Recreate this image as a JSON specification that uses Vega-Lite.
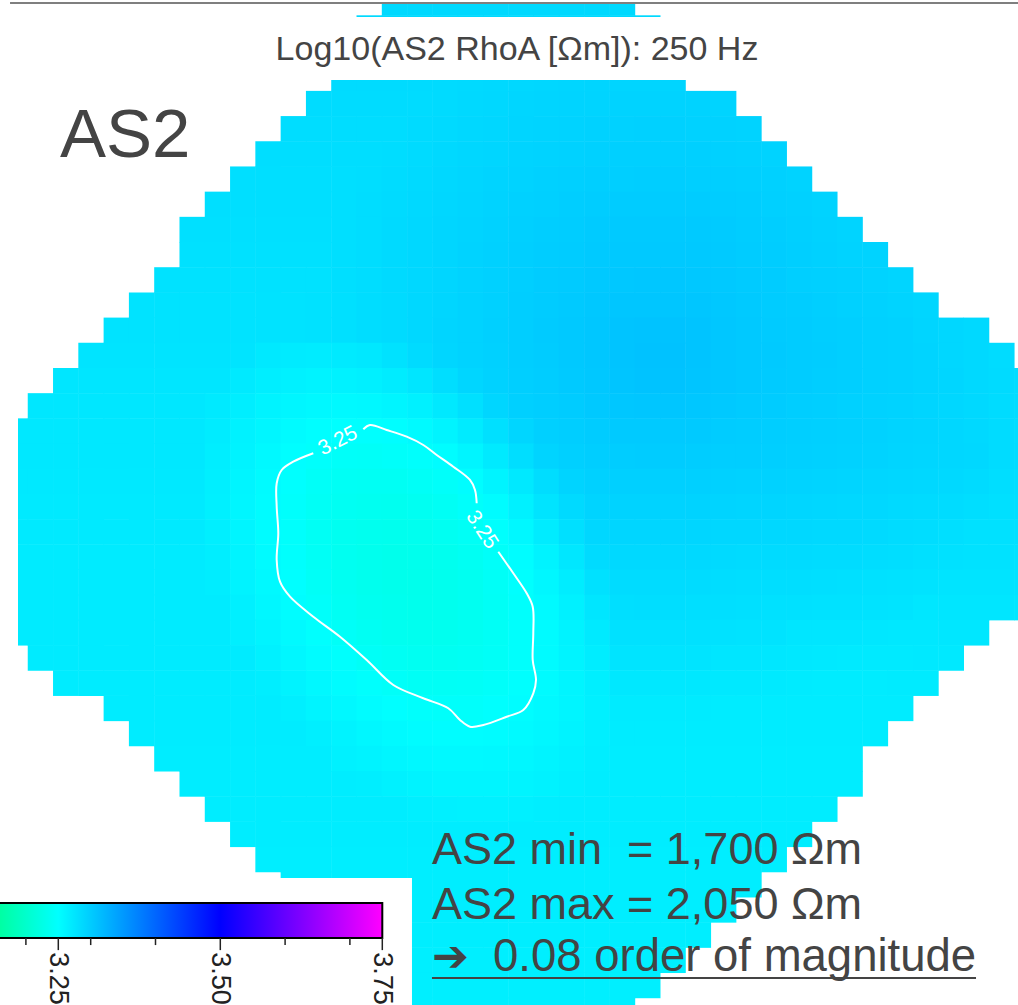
{
"$schema":"https://vega.github.io/schema/vega-lite/v6.json",
"width":1000,"height":1001,
"padding":{"left":18,"top":4,"right":0,"bottom":0},
"autosize":{"type":"none"},
"background":"white",
"config":{"view":{"stroke":null},"axis":{"disable":true},"text":{"font":"Liberation Sans"}},
"layer":[
{"layer":[
{"data":{"values":[
{"c":15,"r":0,"v":3.287},{"c":16,"r":0,"v":3.287},{"c":17,"r":0,"v":3.287},{"c":18,"r":0,"v":3.287},{"c":19,"r":0,"v":3.287},{"c":20,"r":0,"v":3.287},{"c":21,"r":0,"v":3.287},{"c":22,"r":0,"v":3.287},{"c":23,"r":0,"v":3.287},{"c":24,"r":0,"v":3.287},
{"c":14,"r":1,"v":3.286},{"c":15,"r":1,"v":3.286},{"c":16,"r":1,"v":3.286},{"c":17,"r":1,"v":3.286},{"c":18,"r":1,"v":3.286},{"c":19,"r":1,"v":3.286},{"c":20,"r":1,"v":3.286},{"c":21,"r":1,"v":3.286},{"c":22,"r":1,"v":3.286},{"c":23,"r":1,"v":3.286},{"c":24,"r":1,"v":3.287},{"c":25,"r":1,"v":3.287},
{"c":14,"r":2,"v":3.285},{"c":15,"r":2,"v":3.285},{"c":16,"r":2,"v":3.285},{"c":17,"r":2,"v":3.285},{"c":18,"r":2,"v":3.285},{"c":19,"r":2,"v":3.285},{"c":20,"r":2,"v":3.286},{"c":21,"r":2,"v":3.287},{"c":22,"r":2,"v":3.288},{"c":23,"r":2,"v":3.288},{"c":24,"r":2,"v":3.289},{"c":25,"r":2,"v":3.289},{"c":26,"r":2,"v":3.289},
{"c":13,"r":3,"v":3.285},{"c":14,"r":3,"v":3.285},{"c":15,"r":3,"v":3.285},{"c":16,"r":3,"v":3.285},{"c":17,"r":3,"v":3.285},{"c":18,"r":3,"v":3.286},{"c":19,"r":3,"v":3.287},{"c":20,"r":3,"v":3.288},{"c":21,"r":3,"v":3.289},{"c":22,"r":3,"v":3.29},{"c":23,"r":3,"v":3.291},{"c":24,"r":3,"v":3.291},{"c":25,"r":3,"v":3.291},{"c":26,"r":3,"v":3.291},
{"c":12,"r":4,"v":3.284},{"c":13,"r":4,"v":3.284},{"c":14,"r":4,"v":3.284},{"c":15,"r":4,"v":3.284},{"c":16,"r":4,"v":3.284},{"c":17,"r":4,"v":3.285},{"c":18,"r":4,"v":3.287},{"c":19,"r":4,"v":3.288},{"c":20,"r":4,"v":3.29},{"c":21,"r":4,"v":3.291},{"c":22,"r":4,"v":3.292},{"c":23,"r":4,"v":3.292},{"c":24,"r":4,"v":3.293},{"c":25,"r":4,"v":3.293},{"c":26,"r":4,"v":3.293},{"c":27,"r":4,"v":3.293},{"c":28,"r":4,"v":3.292},
{"c":11,"r":5,"v":3.283},{"c":12,"r":5,"v":3.283},{"c":13,"r":5,"v":3.283},{"c":14,"r":5,"v":3.283},{"c":15,"r":5,"v":3.283},{"c":16,"r":5,"v":3.285},{"c":17,"r":5,"v":3.286},{"c":18,"r":5,"v":3.288},{"c":19,"r":5,"v":3.289},{"c":20,"r":5,"v":3.291},{"c":21,"r":5,"v":3.292},{"c":22,"r":5,"v":3.293},{"c":23,"r":5,"v":3.294},{"c":24,"r":5,"v":3.294},{"c":25,"r":5,"v":3.295},{"c":26,"r":5,"v":3.295},{"c":27,"r":5,"v":3.294},{"c":28,"r":5,"v":3.294},{"c":29,"r":5,"v":3.293},
{"c":10,"r":6,"v":3.282},{"c":11,"r":6,"v":3.282},{"c":12,"r":6,"v":3.282},{"c":13,"r":6,"v":3.282},{"c":14,"r":6,"v":3.282},{"c":15,"r":6,"v":3.283},{"c":16,"r":6,"v":3.285},{"c":17,"r":6,"v":3.287},{"c":18,"r":6,"v":3.289},{"c":19,"r":6,"v":3.29},{"c":20,"r":6,"v":3.292},{"c":21,"r":6,"v":3.293},{"c":22,"r":6,"v":3.294},{"c":23,"r":6,"v":3.295},{"c":24,"r":6,"v":3.296},{"c":25,"r":6,"v":3.296},{"c":26,"r":6,"v":3.296},{"c":27,"r":6,"v":3.296},{"c":28,"r":6,"v":3.295},{"c":29,"r":6,"v":3.294},{"c":30,"r":6,"v":3.293},
{"c":9,"r":7,"v":3.281},{"c":10,"r":7,"v":3.281},{"c":11,"r":7,"v":3.281},{"c":12,"r":7,"v":3.281},{"c":13,"r":7,"v":3.281},{"c":14,"r":7,"v":3.282},{"c":15,"r":7,"v":3.284},{"c":16,"r":7,"v":3.286},{"c":17,"r":7,"v":3.288},{"c":18,"r":7,"v":3.29},{"c":19,"r":7,"v":3.292},{"c":20,"r":7,"v":3.293},{"c":21,"r":7,"v":3.295},{"c":22,"r":7,"v":3.296},{"c":23,"r":7,"v":3.297},{"c":24,"r":7,"v":3.297},{"c":25,"r":7,"v":3.298},{"c":26,"r":7,"v":3.298},{"c":27,"r":7,"v":3.297},{"c":28,"r":7,"v":3.297},{"c":29,"r":7,"v":3.296},{"c":30,"r":7,"v":3.295},{"c":31,"r":7,"v":3.293},
{"c":8,"r":8,"v":3.281},{"c":9,"r":8,"v":3.281},{"c":10,"r":8,"v":3.281},{"c":11,"r":8,"v":3.281},{"c":12,"r":8,"v":3.281},{"c":13,"r":8,"v":3.281},{"c":14,"r":8,"v":3.283},{"c":15,"r":8,"v":3.285},{"c":16,"r":8,"v":3.287},{"c":17,"r":8,"v":3.289},{"c":18,"r":8,"v":3.291},{"c":19,"r":8,"v":3.293},{"c":20,"r":8,"v":3.295},{"c":21,"r":8,"v":3.296},{"c":22,"r":8,"v":3.298},{"c":23,"r":8,"v":3.299},{"c":24,"r":8,"v":3.3},{"c":25,"r":8,"v":3.3},{"c":26,"r":8,"v":3.3},{"c":27,"r":8,"v":3.3},{"c":28,"r":8,"v":3.299},{"c":29,"r":8,"v":3.298},{"c":30,"r":8,"v":3.296},{"c":31,"r":8,"v":3.295},{"c":32,"r":8,"v":3.293},
{"c":7,"r":9,"v":3.28},{"c":8,"r":9,"v":3.28},{"c":9,"r":9,"v":3.28},{"c":10,"r":9,"v":3.28},{"c":11,"r":9,"v":3.28},{"c":12,"r":9,"v":3.28},{"c":13,"r":9,"v":3.281},{"c":14,"r":9,"v":3.283},{"c":15,"r":9,"v":3.286},{"c":16,"r":9,"v":3.288},{"c":17,"r":9,"v":3.29},{"c":18,"r":9,"v":3.292},{"c":19,"r":9,"v":3.294},{"c":20,"r":9,"v":3.296},{"c":21,"r":9,"v":3.298},{"c":22,"r":9,"v":3.299},{"c":23,"r":9,"v":3.301},{"c":24,"r":9,"v":3.302},{"c":25,"r":9,"v":3.302},{"c":26,"r":9,"v":3.302},{"c":27,"r":9,"v":3.302},{"c":28,"r":9,"v":3.301},{"c":29,"r":9,"v":3.299},{"c":30,"r":9,"v":3.298},{"c":31,"r":9,"v":3.296},{"c":32,"r":9,"v":3.294},{"c":33,"r":9,"v":3.292},
{"c":7,"r":10,"v":3.279},{"c":8,"r":10,"v":3.279},{"c":9,"r":10,"v":3.279},{"c":10,"r":10,"v":3.279},{"c":11,"r":10,"v":3.279},{"c":12,"r":10,"v":3.279},{"c":13,"r":10,"v":3.281},{"c":14,"r":10,"v":3.283},{"c":15,"r":10,"v":3.286},{"c":16,"r":10,"v":3.288},{"c":17,"r":10,"v":3.29},{"c":18,"r":10,"v":3.293},{"c":19,"r":10,"v":3.295},{"c":20,"r":10,"v":3.297},{"c":21,"r":10,"v":3.299},{"c":22,"r":10,"v":3.3},{"c":23,"r":10,"v":3.302},{"c":24,"r":10,"v":3.303},{"c":25,"r":10,"v":3.303},{"c":26,"r":10,"v":3.303},{"c":27,"r":10,"v":3.303},{"c":28,"r":10,"v":3.302},{"c":29,"r":10,"v":3.3},{"c":30,"r":10,"v":3.299},{"c":31,"r":10,"v":3.297},{"c":32,"r":10,"v":3.295},{"c":33,"r":10,"v":3.293},{"c":34,"r":10,"v":3.293},
{"c":6,"r":11,"v":3.278},{"c":7,"r":11,"v":3.278},{"c":8,"r":11,"v":3.278},{"c":9,"r":11,"v":3.278},{"c":10,"r":11,"v":3.278},{"c":11,"r":11,"v":3.278},{"c":12,"r":11,"v":3.278},{"c":13,"r":11,"v":3.281},{"c":14,"r":11,"v":3.283},{"c":15,"r":11,"v":3.286},{"c":16,"r":11,"v":3.288},{"c":17,"r":11,"v":3.29},{"c":18,"r":11,"v":3.293},{"c":19,"r":11,"v":3.295},{"c":20,"r":11,"v":3.297},{"c":21,"r":11,"v":3.3},{"c":22,"r":11,"v":3.301},{"c":23,"r":11,"v":3.303},{"c":24,"r":11,"v":3.304},{"c":25,"r":11,"v":3.305},{"c":26,"r":11,"v":3.305},{"c":27,"r":11,"v":3.304},{"c":28,"r":11,"v":3.303},{"c":29,"r":11,"v":3.301},{"c":30,"r":11,"v":3.3},{"c":31,"r":11,"v":3.297},{"c":32,"r":11,"v":3.296},{"c":33,"r":11,"v":3.295},{"c":34,"r":11,"v":3.293},{"c":35,"r":11,"v":3.291},
{"c":5,"r":12,"v":3.277},{"c":6,"r":12,"v":3.277},{"c":7,"r":12,"v":3.277},{"c":8,"r":12,"v":3.277},{"c":9,"r":12,"v":3.277},{"c":10,"r":12,"v":3.277},{"c":11,"r":12,"v":3.277},{"c":12,"r":12,"v":3.278},{"c":13,"r":12,"v":3.28},{"c":14,"r":12,"v":3.283},{"c":15,"r":12,"v":3.285},{"c":16,"r":12,"v":3.288},{"c":17,"r":12,"v":3.29},{"c":18,"r":12,"v":3.293},{"c":19,"r":12,"v":3.295},{"c":20,"r":12,"v":3.298},{"c":21,"r":12,"v":3.3},{"c":22,"r":12,"v":3.302},{"c":23,"r":12,"v":3.304},{"c":24,"r":12,"v":3.306},{"c":25,"r":12,"v":3.306},{"c":26,"r":12,"v":3.306},{"c":27,"r":12,"v":3.306},{"c":28,"r":12,"v":3.304},{"c":29,"r":12,"v":3.302},{"c":30,"r":12,"v":3.3},{"c":31,"r":12,"v":3.299},{"c":32,"r":12,"v":3.297},{"c":33,"r":12,"v":3.295},{"c":34,"r":12,"v":3.294},{"c":35,"r":12,"v":3.292},{"c":36,"r":12,"v":3.29},
{"c":4,"r":13,"v":3.277},{"c":5,"r":13,"v":3.277},{"c":6,"r":13,"v":3.277},{"c":7,"r":13,"v":3.277},{"c":8,"r":13,"v":3.277},{"c":9,"r":13,"v":3.277},{"c":10,"r":13,"v":3.277},{"c":11,"r":13,"v":3.277},{"c":12,"r":13,"v":3.278},{"c":13,"r":13,"v":3.28},{"c":14,"r":13,"v":3.283},{"c":15,"r":13,"v":3.285},{"c":16,"r":13,"v":3.288},{"c":17,"r":13,"v":3.291},{"c":18,"r":13,"v":3.293},{"c":19,"r":13,"v":3.296},{"c":20,"r":13,"v":3.298},{"c":21,"r":13,"v":3.301},{"c":22,"r":13,"v":3.303},{"c":23,"r":13,"v":3.305},{"c":24,"r":13,"v":3.308},{"c":25,"r":13,"v":3.309},{"c":26,"r":13,"v":3.309},{"c":27,"r":13,"v":3.308},{"c":28,"r":13,"v":3.305},{"c":29,"r":13,"v":3.303},{"c":30,"r":13,"v":3.301},{"c":31,"r":13,"v":3.3},{"c":32,"r":13,"v":3.298},{"c":33,"r":13,"v":3.297},{"c":34,"r":13,"v":3.295},{"c":35,"r":13,"v":3.294},{"c":36,"r":13,"v":3.291},{"c":37,"r":13,"v":3.289},{"c":38,"r":13,"v":3.287},
{"c":3,"r":14,"v":3.276},{"c":4,"r":14,"v":3.276},{"c":5,"r":14,"v":3.276},{"c":6,"r":14,"v":3.276},{"c":7,"r":14,"v":3.276},{"c":8,"r":14,"v":3.276},{"c":9,"r":14,"v":3.276},{"c":10,"r":14,"v":3.272},{"c":11,"r":14,"v":3.27},{"c":12,"r":14,"v":3.269},{"c":13,"r":14,"v":3.271},{"c":14,"r":14,"v":3.273},{"c":15,"r":14,"v":3.278},{"c":16,"r":14,"v":3.285},{"c":17,"r":14,"v":3.29},{"c":18,"r":14,"v":3.293},{"c":19,"r":14,"v":3.295},{"c":20,"r":14,"v":3.298},{"c":21,"r":14,"v":3.3},{"c":22,"r":14,"v":3.303},{"c":23,"r":14,"v":3.305},{"c":24,"r":14,"v":3.308},{"c":25,"r":14,"v":3.31},{"c":26,"r":14,"v":3.31},{"c":27,"r":14,"v":3.308},{"c":28,"r":14,"v":3.305},{"c":29,"r":14,"v":3.303},{"c":30,"r":14,"v":3.302},{"c":31,"r":14,"v":3.3},{"c":32,"r":14,"v":3.299},{"c":33,"r":14,"v":3.297},{"c":34,"r":14,"v":3.295},{"c":35,"r":14,"v":3.294},{"c":36,"r":14,"v":3.292},{"c":37,"r":14,"v":3.289},{"c":38,"r":14,"v":3.287},{"c":39,"r":14,"v":3.284},
{"c":2,"r":15,"v":3.275},{"c":3,"r":15,"v":3.275},{"c":4,"r":15,"v":3.275},{"c":5,"r":15,"v":3.275},{"c":6,"r":15,"v":3.275},{"c":7,"r":15,"v":3.275},{"c":8,"r":15,"v":3.275},{"c":9,"r":15,"v":3.271},{"c":10,"r":15,"v":3.267},{"c":11,"r":15,"v":3.264},{"c":12,"r":15,"v":3.262},{"c":13,"r":15,"v":3.263},{"c":14,"r":15,"v":3.265},{"c":15,"r":15,"v":3.269},{"c":16,"r":15,"v":3.275},{"c":17,"r":15,"v":3.282},{"c":18,"r":15,"v":3.29},{"c":19,"r":15,"v":3.294},{"c":20,"r":15,"v":3.297},{"c":21,"r":15,"v":3.299},{"c":22,"r":15,"v":3.302},{"c":23,"r":15,"v":3.304},{"c":24,"r":15,"v":3.307},{"c":25,"r":15,"v":3.309},{"c":26,"r":15,"v":3.309},{"c":27,"r":15,"v":3.307},{"c":28,"r":15,"v":3.305},{"c":29,"r":15,"v":3.303},{"c":30,"r":15,"v":3.301},{"c":31,"r":15,"v":3.3},{"c":32,"r":15,"v":3.298},{"c":33,"r":15,"v":3.297},{"c":34,"r":15,"v":3.295},{"c":35,"r":15,"v":3.294},{"c":36,"r":15,"v":3.292},{"c":37,"r":15,"v":3.29},{"c":38,"r":15,"v":3.287},{"c":39,"r":15,"v":3.285},{"c":40,"r":15,"v":3.283},
{"c":1,"r":16,"v":3.274},{"c":2,"r":16,"v":3.274},{"c":3,"r":16,"v":3.274},{"c":4,"r":16,"v":3.274},{"c":5,"r":16,"v":3.274},{"c":6,"r":16,"v":3.274},{"c":7,"r":16,"v":3.274},{"c":8,"r":16,"v":3.271},{"c":9,"r":16,"v":3.267},{"c":10,"r":16,"v":3.262},{"c":11,"r":16,"v":3.259},{"c":12,"r":16,"v":3.257},{"c":13,"r":16,"v":3.256},{"c":14,"r":16,"v":3.257},{"c":15,"r":16,"v":3.26},{"c":16,"r":16,"v":3.264},{"c":17,"r":16,"v":3.272},{"c":18,"r":16,"v":3.28},{"c":19,"r":16,"v":3.29},{"c":20,"r":16,"v":3.296},{"c":21,"r":16,"v":3.298},{"c":22,"r":16,"v":3.3},{"c":23,"r":16,"v":3.303},{"c":24,"r":16,"v":3.305},{"c":25,"r":16,"v":3.306},{"c":26,"r":16,"v":3.306},{"c":27,"r":16,"v":3.305},{"c":28,"r":16,"v":3.303},{"c":29,"r":16,"v":3.301},{"c":30,"r":16,"v":3.3},{"c":31,"r":16,"v":3.298},{"c":32,"r":16,"v":3.297},{"c":33,"r":16,"v":3.295},{"c":34,"r":16,"v":3.294},{"c":35,"r":16,"v":3.293},{"c":36,"r":16,"v":3.291},{"c":37,"r":16,"v":3.289},{"c":38,"r":16,"v":3.287},{"c":39,"r":16,"v":3.284},{"c":40,"r":16,"v":3.283},
{"c":0,"r":17,"v":3.273},{"c":1,"r":17,"v":3.273},{"c":2,"r":17,"v":3.273},{"c":3,"r":17,"v":3.273},{"c":4,"r":17,"v":3.273},{"c":5,"r":17,"v":3.273},{"c":6,"r":17,"v":3.273},{"c":7,"r":17,"v":3.273},{"c":8,"r":17,"v":3.269},{"c":9,"r":17,"v":3.263},{"c":10,"r":17,"v":3.259},{"c":11,"r":17,"v":3.254},{"c":12,"r":17,"v":3.251},{"c":13,"r":17,"v":3.25},{"c":14,"r":17,"v":3.249},{"c":15,"r":17,"v":3.251},{"c":16,"r":17,"v":3.255},{"c":17,"r":17,"v":3.261},{"c":18,"r":17,"v":3.27},{"c":19,"r":17,"v":3.28},{"c":20,"r":17,"v":3.29},{"c":21,"r":17,"v":3.296},{"c":22,"r":17,"v":3.298},{"c":23,"r":17,"v":3.3},{"c":24,"r":17,"v":3.302},{"c":25,"r":17,"v":3.302},{"c":26,"r":17,"v":3.302},{"c":27,"r":17,"v":3.302},{"c":28,"r":17,"v":3.3},{"c":29,"r":17,"v":3.299},{"c":30,"r":17,"v":3.298},{"c":31,"r":17,"v":3.297},{"c":32,"r":17,"v":3.296},{"c":33,"r":17,"v":3.295},{"c":34,"r":17,"v":3.294},{"c":35,"r":17,"v":3.292},{"c":36,"r":17,"v":3.291},{"c":37,"r":17,"v":3.289},{"c":38,"r":17,"v":3.287},{"c":39,"r":17,"v":3.284},{"c":40,"r":17,"v":3.282},
{"c":0,"r":18,"v":3.273},{"c":1,"r":18,"v":3.273},{"c":2,"r":18,"v":3.273},{"c":3,"r":18,"v":3.273},{"c":4,"r":18,"v":3.273},{"c":5,"r":18,"v":3.273},{"c":6,"r":18,"v":3.273},{"c":7,"r":18,"v":3.273},{"c":8,"r":18,"v":3.267},{"c":9,"r":18,"v":3.262},{"c":10,"r":18,"v":3.256},{"c":11,"r":18,"v":3.251},{"c":12,"r":18,"v":3.247},{"c":13,"r":18,"v":3.244},{"c":14,"r":18,"v":3.243},{"c":15,"r":18,"v":3.245},{"c":16,"r":18,"v":3.247},{"c":17,"r":18,"v":3.252},{"c":18,"r":18,"v":3.26},{"c":19,"r":18,"v":3.271},{"c":20,"r":18,"v":3.282},{"c":21,"r":18,"v":3.292},{"c":22,"r":18,"v":3.296},{"c":23,"r":18,"v":3.298},{"c":24,"r":18,"v":3.299},{"c":25,"r":18,"v":3.3},{"c":26,"r":18,"v":3.3},{"c":27,"r":18,"v":3.299},{"c":28,"r":18,"v":3.298},{"c":29,"r":18,"v":3.298},{"c":30,"r":18,"v":3.297},{"c":31,"r":18,"v":3.296},{"c":32,"r":18,"v":3.295},{"c":33,"r":18,"v":3.294},{"c":34,"r":18,"v":3.293},{"c":35,"r":18,"v":3.291},{"c":36,"r":18,"v":3.29},{"c":37,"r":18,"v":3.289},{"c":38,"r":18,"v":3.288},{"c":39,"r":18,"v":3.284},{"c":40,"r":18,"v":3.283},
{"c":0,"r":19,"v":3.272},{"c":1,"r":19,"v":3.272},{"c":2,"r":19,"v":3.272},{"c":3,"r":19,"v":3.272},{"c":4,"r":19,"v":3.272},{"c":5,"r":19,"v":3.272},{"c":6,"r":19,"v":3.272},{"c":7,"r":19,"v":3.272},{"c":8,"r":19,"v":3.266},{"c":9,"r":19,"v":3.26},{"c":10,"r":19,"v":3.254},{"c":11,"r":19,"v":3.249},{"c":12,"r":19,"v":3.243},{"c":13,"r":19,"v":3.24},{"c":14,"r":19,"v":3.239},{"c":15,"r":19,"v":3.239},{"c":16,"r":19,"v":3.242},{"c":17,"r":19,"v":3.245},{"c":18,"r":19,"v":3.252},{"c":19,"r":19,"v":3.261},{"c":20,"r":19,"v":3.272},{"c":21,"r":19,"v":3.283},{"c":22,"r":19,"v":3.292},{"c":23,"r":19,"v":3.295},{"c":24,"r":19,"v":3.296},{"c":25,"r":19,"v":3.296},{"c":26,"r":19,"v":3.296},{"c":27,"r":19,"v":3.296},{"c":28,"r":19,"v":3.295},{"c":29,"r":19,"v":3.294},{"c":30,"r":19,"v":3.294},{"c":31,"r":19,"v":3.293},{"c":32,"r":19,"v":3.292},{"c":33,"r":19,"v":3.291},{"c":34,"r":19,"v":3.29},{"c":35,"r":19,"v":3.289},{"c":36,"r":19,"v":3.288},{"c":37,"r":19,"v":3.287},{"c":38,"r":19,"v":3.285},{"c":39,"r":19,"v":3.282},{"c":40,"r":19,"v":3.281},
{"c":0,"r":20,"v":3.271},{"c":1,"r":20,"v":3.271},{"c":2,"r":20,"v":3.271},{"c":3,"r":20,"v":3.271},{"c":4,"r":20,"v":3.271},{"c":5,"r":20,"v":3.271},{"c":6,"r":20,"v":3.271},{"c":7,"r":20,"v":3.271},{"c":8,"r":20,"v":3.265},{"c":9,"r":20,"v":3.259},{"c":10,"r":20,"v":3.253},{"c":11,"r":20,"v":3.247},{"c":12,"r":20,"v":3.241},{"c":13,"r":20,"v":3.238},{"c":14,"r":20,"v":3.236},{"c":15,"r":20,"v":3.235},{"c":16,"r":20,"v":3.237},{"c":17,"r":20,"v":3.24},{"c":18,"r":20,"v":3.246},{"c":19,"r":20,"v":3.253},{"c":20,"r":20,"v":3.264},{"c":21,"r":20,"v":3.276},{"c":22,"r":20,"v":3.286},{"c":23,"r":20,"v":3.292},{"c":24,"r":20,"v":3.293},{"c":25,"r":20,"v":3.293},{"c":26,"r":20,"v":3.293},{"c":27,"r":20,"v":3.293},{"c":28,"r":20,"v":3.292},{"c":29,"r":20,"v":3.291},{"c":30,"r":20,"v":3.291},{"c":31,"r":20,"v":3.29},{"c":32,"r":20,"v":3.289},{"c":33,"r":20,"v":3.288},{"c":34,"r":20,"v":3.288},{"c":35,"r":20,"v":3.286},{"c":36,"r":20,"v":3.285},{"c":37,"r":20,"v":3.284},{"c":38,"r":20,"v":3.282},{"c":39,"r":20,"v":3.28},{"c":40,"r":20,"v":3.28},
{"c":0,"r":21,"v":3.271},{"c":1,"r":21,"v":3.271},{"c":2,"r":21,"v":3.271},{"c":3,"r":21,"v":3.271},{"c":4,"r":21,"v":3.271},{"c":5,"r":21,"v":3.271},{"c":6,"r":21,"v":3.271},{"c":7,"r":21,"v":3.271},{"c":8,"r":21,"v":3.266},{"c":9,"r":21,"v":3.26},{"c":10,"r":21,"v":3.253},{"c":11,"r":21,"v":3.247},{"c":12,"r":21,"v":3.24},{"c":13,"r":21,"v":3.236},{"c":14,"r":21,"v":3.234},{"c":15,"r":21,"v":3.233},{"c":16,"r":21,"v":3.234},{"c":17,"r":21,"v":3.237},{"c":18,"r":21,"v":3.241},{"c":19,"r":21,"v":3.248},{"c":20,"r":21,"v":3.257},{"c":21,"r":21,"v":3.269},{"c":22,"r":21,"v":3.28},{"c":23,"r":21,"v":3.289},{"c":24,"r":21,"v":3.29},{"c":25,"r":21,"v":3.29},{"c":26,"r":21,"v":3.29},{"c":27,"r":21,"v":3.29},{"c":28,"r":21,"v":3.289},{"c":29,"r":21,"v":3.289},{"c":30,"r":21,"v":3.288},{"c":31,"r":21,"v":3.288},{"c":32,"r":21,"v":3.287},{"c":33,"r":21,"v":3.287},{"c":34,"r":21,"v":3.286},{"c":35,"r":21,"v":3.284},{"c":36,"r":21,"v":3.283},{"c":37,"r":21,"v":3.281},{"c":38,"r":21,"v":3.279},{"c":39,"r":21,"v":3.279},{"c":40,"r":21,"v":3.279},
{"c":0,"r":22,"v":3.27},{"c":1,"r":22,"v":3.27},{"c":2,"r":22,"v":3.27},{"c":3,"r":22,"v":3.27},{"c":4,"r":22,"v":3.27},{"c":5,"r":22,"v":3.27},{"c":6,"r":22,"v":3.27},{"c":7,"r":22,"v":3.27},{"c":8,"r":22,"v":3.267},{"c":9,"r":22,"v":3.261},{"c":10,"r":22,"v":3.254},{"c":11,"r":22,"v":3.248},{"c":12,"r":22,"v":3.241},{"c":13,"r":22,"v":3.236},{"c":14,"r":22,"v":3.233},{"c":15,"r":22,"v":3.231},{"c":16,"r":22,"v":3.232},{"c":17,"r":22,"v":3.234},{"c":18,"r":22,"v":3.238},{"c":19,"r":22,"v":3.244},{"c":20,"r":22,"v":3.252},{"c":21,"r":22,"v":3.262},{"c":22,"r":22,"v":3.274},{"c":23,"r":22,"v":3.285},{"c":24,"r":22,"v":3.287},{"c":25,"r":22,"v":3.287},{"c":26,"r":22,"v":3.287},{"c":27,"r":22,"v":3.287},{"c":28,"r":22,"v":3.286},{"c":29,"r":22,"v":3.285},{"c":30,"r":22,"v":3.285},{"c":31,"r":22,"v":3.285},{"c":32,"r":22,"v":3.284},{"c":33,"r":22,"v":3.284},{"c":34,"r":22,"v":3.283},{"c":35,"r":22,"v":3.282},{"c":36,"r":22,"v":3.28},{"c":37,"r":22,"v":3.279},{"c":38,"r":22,"v":3.278},{"c":39,"r":22,"v":3.278},{"c":40,"r":22,"v":3.277},
{"c":0,"r":23,"v":3.27},{"c":1,"r":23,"v":3.27},{"c":2,"r":23,"v":3.27},{"c":3,"r":23,"v":3.27},{"c":4,"r":23,"v":3.27},{"c":5,"r":23,"v":3.27},{"c":6,"r":23,"v":3.27},{"c":7,"r":23,"v":3.27},{"c":8,"r":23,"v":3.268},{"c":9,"r":23,"v":3.262},{"c":10,"r":23,"v":3.256},{"c":11,"r":23,"v":3.25},{"c":12,"r":23,"v":3.242},{"c":13,"r":23,"v":3.237},{"c":14,"r":23,"v":3.233},{"c":15,"r":23,"v":3.231},{"c":16,"r":23,"v":3.231},{"c":17,"r":23,"v":3.233},{"c":18,"r":23,"v":3.236},{"c":19,"r":23,"v":3.242},{"c":20,"r":23,"v":3.249},{"c":21,"r":23,"v":3.258},{"c":22,"r":23,"v":3.268},{"c":23,"r":23,"v":3.279},{"c":24,"r":23,"v":3.284},{"c":25,"r":23,"v":3.284},{"c":26,"r":23,"v":3.284},{"c":27,"r":23,"v":3.284},{"c":28,"r":23,"v":3.283},{"c":29,"r":23,"v":3.282},{"c":30,"r":23,"v":3.282},{"c":31,"r":23,"v":3.282},{"c":32,"r":23,"v":3.281},{"c":33,"r":23,"v":3.28},{"c":34,"r":23,"v":3.279},{"c":35,"r":23,"v":3.278},{"c":36,"r":23,"v":3.277},{"c":37,"r":23,"v":3.276},{"c":38,"r":23,"v":3.276},{"c":39,"r":23,"v":3.276},{"c":40,"r":23,"v":3.276},
{"c":0,"r":24,"v":3.27},{"c":1,"r":24,"v":3.27},{"c":2,"r":24,"v":3.27},{"c":3,"r":24,"v":3.27},{"c":4,"r":24,"v":3.27},{"c":5,"r":24,"v":3.27},{"c":6,"r":24,"v":3.27},{"c":7,"r":24,"v":3.27},{"c":8,"r":24,"v":3.27},{"c":9,"r":24,"v":3.265},{"c":10,"r":24,"v":3.258},{"c":11,"r":24,"v":3.252},{"c":12,"r":24,"v":3.245},{"c":13,"r":24,"v":3.239},{"c":14,"r":24,"v":3.235},{"c":15,"r":24,"v":3.233},{"c":16,"r":24,"v":3.232},{"c":17,"r":24,"v":3.233},{"c":18,"r":24,"v":3.236},{"c":19,"r":24,"v":3.241},{"c":20,"r":24,"v":3.247},{"c":21,"r":24,"v":3.255},{"c":22,"r":24,"v":3.264},{"c":23,"r":24,"v":3.275},{"c":24,"r":24,"v":3.281},{"c":25,"r":24,"v":3.282},{"c":26,"r":24,"v":3.282},{"c":27,"r":24,"v":3.281},{"c":28,"r":24,"v":3.281},{"c":29,"r":24,"v":3.28},{"c":30,"r":24,"v":3.279},{"c":31,"r":24,"v":3.279},{"c":32,"r":24,"v":3.278},{"c":33,"r":24,"v":3.278},{"c":34,"r":24,"v":3.277},{"c":35,"r":24,"v":3.276},{"c":36,"r":24,"v":3.274},{"c":37,"r":24,"v":3.275},{"c":38,"r":24,"v":3.275},{"c":39,"r":24,"v":3.275},{"c":40,"r":24,"v":3.274},
{"c":0,"r":25,"v":3.27},{"c":1,"r":25,"v":3.27},{"c":2,"r":25,"v":3.27},{"c":3,"r":25,"v":3.27},{"c":4,"r":25,"v":3.27},{"c":5,"r":25,"v":3.27},{"c":6,"r":25,"v":3.27},{"c":7,"r":25,"v":3.27},{"c":8,"r":25,"v":3.27},{"c":9,"r":25,"v":3.266},{"c":10,"r":25,"v":3.261},{"c":11,"r":25,"v":3.255},{"c":12,"r":25,"v":3.249},{"c":13,"r":25,"v":3.243},{"c":14,"r":25,"v":3.238},{"c":15,"r":25,"v":3.235},{"c":16,"r":25,"v":3.234},{"c":17,"r":25,"v":3.234},{"c":18,"r":25,"v":3.237},{"c":19,"r":25,"v":3.241},{"c":20,"r":25,"v":3.247},{"c":21,"r":25,"v":3.254},{"c":22,"r":25,"v":3.262},{"c":23,"r":25,"v":3.271},{"c":24,"r":25,"v":3.279},{"c":25,"r":25,"v":3.279},{"c":26,"r":25,"v":3.279},{"c":27,"r":25,"v":3.279},{"c":28,"r":25,"v":3.278},{"c":29,"r":25,"v":3.277},{"c":30,"r":25,"v":3.277},{"c":31,"r":25,"v":3.275},{"c":32,"r":25,"v":3.275},{"c":33,"r":25,"v":3.275},{"c":34,"r":25,"v":3.274},{"c":35,"r":25,"v":3.273},{"c":36,"r":25,"v":3.273},{"c":37,"r":25,"v":3.274},{"c":38,"r":25,"v":3.274},
{"c":1,"r":26,"v":3.27},{"c":2,"r":26,"v":3.27},{"c":3,"r":26,"v":3.27},{"c":4,"r":26,"v":3.27},{"c":5,"r":26,"v":3.27},{"c":6,"r":26,"v":3.27},{"c":7,"r":26,"v":3.27},{"c":8,"r":26,"v":3.27},{"c":9,"r":26,"v":3.27},{"c":10,"r":26,"v":3.264},{"c":11,"r":26,"v":3.258},{"c":12,"r":26,"v":3.253},{"c":13,"r":26,"v":3.248},{"c":14,"r":26,"v":3.242},{"c":15,"r":26,"v":3.239},{"c":16,"r":26,"v":3.237},{"c":17,"r":26,"v":3.237},{"c":18,"r":26,"v":3.239},{"c":19,"r":26,"v":3.242},{"c":20,"r":26,"v":3.247},{"c":21,"r":26,"v":3.254},{"c":22,"r":26,"v":3.261},{"c":23,"r":26,"v":3.268},{"c":24,"r":26,"v":3.276},{"c":25,"r":26,"v":3.276},{"c":26,"r":26,"v":3.276},{"c":27,"r":26,"v":3.276},{"c":28,"r":26,"v":3.275},{"c":29,"r":26,"v":3.275},{"c":30,"r":26,"v":3.274},{"c":31,"r":26,"v":3.273},{"c":32,"r":26,"v":3.272},{"c":33,"r":26,"v":3.271},{"c":34,"r":26,"v":3.271},{"c":35,"r":26,"v":3.271},{"c":36,"r":26,"v":3.272},{"c":37,"r":26,"v":3.272},
{"c":2,"r":27,"v":3.269},{"c":3,"r":27,"v":3.269},{"c":4,"r":27,"v":3.269},{"c":5,"r":27,"v":3.269},{"c":6,"r":27,"v":3.269},{"c":7,"r":27,"v":3.269},{"c":8,"r":27,"v":3.269},{"c":9,"r":27,"v":3.269},{"c":10,"r":27,"v":3.267},{"c":11,"r":27,"v":3.262},{"c":12,"r":27,"v":3.257},{"c":13,"r":27,"v":3.253},{"c":14,"r":27,"v":3.248},{"c":15,"r":27,"v":3.244},{"c":16,"r":27,"v":3.241},{"c":17,"r":27,"v":3.241},{"c":18,"r":27,"v":3.242},{"c":19,"r":27,"v":3.245},{"c":20,"r":27,"v":3.249},{"c":21,"r":27,"v":3.254},{"c":22,"r":27,"v":3.26},{"c":23,"r":27,"v":3.266},{"c":24,"r":27,"v":3.273},{"c":25,"r":27,"v":3.273},{"c":26,"r":27,"v":3.273},{"c":27,"r":27,"v":3.273},{"c":28,"r":27,"v":3.272},{"c":29,"r":27,"v":3.272},{"c":30,"r":27,"v":3.271},{"c":31,"r":27,"v":3.27},{"c":32,"r":27,"v":3.269},{"c":33,"r":27,"v":3.269},{"c":34,"r":27,"v":3.269},{"c":35,"r":27,"v":3.27},{"c":36,"r":27,"v":3.27},
{"c":4,"r":28,"v":3.269},{"c":5,"r":28,"v":3.269},{"c":6,"r":28,"v":3.269},{"c":7,"r":28,"v":3.269},{"c":8,"r":28,"v":3.269},{"c":9,"r":28,"v":3.269},{"c":10,"r":28,"v":3.269},{"c":11,"r":28,"v":3.266},{"c":12,"r":28,"v":3.261},{"c":13,"r":28,"v":3.257},{"c":14,"r":28,"v":3.253},{"c":15,"r":28,"v":3.25},{"c":16,"r":28,"v":3.247},{"c":17,"r":28,"v":3.246},{"c":18,"r":28,"v":3.246},{"c":19,"r":28,"v":3.249},{"c":20,"r":28,"v":3.252},{"c":21,"r":28,"v":3.256},{"c":22,"r":28,"v":3.26},{"c":23,"r":28,"v":3.265},{"c":24,"r":28,"v":3.27},{"c":25,"r":28,"v":3.27},{"c":26,"r":28,"v":3.27},{"c":27,"r":28,"v":3.27},{"c":28,"r":28,"v":3.269},{"c":29,"r":28,"v":3.269},{"c":30,"r":28,"v":3.269},{"c":31,"r":28,"v":3.269},{"c":32,"r":28,"v":3.269},{"c":33,"r":28,"v":3.269},{"c":34,"r":28,"v":3.269},{"c":35,"r":28,"v":3.269},
{"c":5,"r":29,"v":3.269},{"c":6,"r":29,"v":3.269},{"c":7,"r":29,"v":3.269},{"c":8,"r":29,"v":3.269},{"c":9,"r":29,"v":3.269},{"c":10,"r":29,"v":3.269},{"c":11,"r":29,"v":3.269},{"c":12,"r":29,"v":3.266},{"c":13,"r":29,"v":3.262},{"c":14,"r":29,"v":3.258},{"c":15,"r":29,"v":3.255},{"c":16,"r":29,"v":3.253},{"c":17,"r":29,"v":3.252},{"c":18,"r":29,"v":3.252},{"c":19,"r":29,"v":3.253},{"c":20,"r":29,"v":3.255},{"c":21,"r":29,"v":3.258},{"c":22,"r":29,"v":3.262},{"c":23,"r":29,"v":3.266},{"c":24,"r":29,"v":3.269},{"c":25,"r":29,"v":3.269},{"c":26,"r":29,"v":3.269},{"c":27,"r":29,"v":3.269},{"c":28,"r":29,"v":3.269},{"c":29,"r":29,"v":3.269},{"c":30,"r":29,"v":3.269},{"c":31,"r":29,"v":3.269},{"c":32,"r":29,"v":3.269},{"c":33,"r":29,"v":3.269},{"c":34,"r":29,"v":3.269},
{"c":6,"r":30,"v":3.268},{"c":7,"r":30,"v":3.268},{"c":8,"r":30,"v":3.268},{"c":9,"r":30,"v":3.268},{"c":10,"r":30,"v":3.268},{"c":11,"r":30,"v":3.268},{"c":12,"r":30,"v":3.268},{"c":13,"r":30,"v":3.264},{"c":14,"r":30,"v":3.262},{"c":15,"r":30,"v":3.259},{"c":16,"r":30,"v":3.257},{"c":17,"r":30,"v":3.256},{"c":18,"r":30,"v":3.256},{"c":19,"r":30,"v":3.257},{"c":20,"r":30,"v":3.258},{"c":21,"r":30,"v":3.261},{"c":22,"r":30,"v":3.264},{"c":23,"r":30,"v":3.267},{"c":24,"r":30,"v":3.268},{"c":25,"r":30,"v":3.268},{"c":26,"r":30,"v":3.268},{"c":27,"r":30,"v":3.268},{"c":28,"r":30,"v":3.268},{"c":29,"r":30,"v":3.268},{"c":30,"r":30,"v":3.268},{"c":31,"r":30,"v":3.268},{"c":32,"r":30,"v":3.268},{"c":33,"r":30,"v":3.268},
{"c":7,"r":31,"v":3.268},{"c":8,"r":31,"v":3.268},{"c":9,"r":31,"v":3.268},{"c":10,"r":31,"v":3.268},{"c":11,"r":31,"v":3.268},{"c":12,"r":31,"v":3.268},{"c":13,"r":31,"v":3.268},{"c":14,"r":31,"v":3.267},{"c":15,"r":31,"v":3.264},{"c":16,"r":31,"v":3.262},{"c":17,"r":31,"v":3.26},{"c":18,"r":31,"v":3.26},{"c":19,"r":31,"v":3.26},{"c":20,"r":31,"v":3.261},{"c":21,"r":31,"v":3.263},{"c":22,"r":31,"v":3.266},{"c":23,"r":31,"v":3.268},{"c":24,"r":31,"v":3.268},{"c":25,"r":31,"v":3.268},{"c":26,"r":31,"v":3.268},{"c":27,"r":31,"v":3.268},{"c":28,"r":31,"v":3.268},{"c":29,"r":31,"v":3.268},{"c":30,"r":31,"v":3.268},{"c":31,"r":31,"v":3.268},{"c":32,"r":31,"v":3.268},{"c":33,"r":31,"v":3.268},
{"c":8,"r":32,"v":3.268},{"c":9,"r":32,"v":3.268},{"c":10,"r":32,"v":3.268},{"c":11,"r":32,"v":3.268},{"c":12,"r":32,"v":3.268},{"c":13,"r":32,"v":3.268},{"c":14,"r":32,"v":3.268},{"c":15,"r":32,"v":3.268},{"c":16,"r":32,"v":3.266},{"c":17,"r":32,"v":3.265},{"c":18,"r":32,"v":3.264},{"c":19,"r":32,"v":3.264},{"c":20,"r":32,"v":3.265},{"c":21,"r":32,"v":3.267},{"c":22,"r":32,"v":3.268},{"c":23,"r":32,"v":3.268},{"c":24,"r":32,"v":3.268},{"c":25,"r":32,"v":3.268},{"c":26,"r":32,"v":3.268},{"c":27,"r":32,"v":3.268},{"c":28,"r":32,"v":3.268},{"c":29,"r":32,"v":3.268},{"c":30,"r":32,"v":3.268},{"c":31,"r":32,"v":3.268},{"c":32,"r":32,"v":3.268},
{"c":9,"r":33,"v":3.268},{"c":10,"r":33,"v":3.268},{"c":11,"r":33,"v":3.268},{"c":12,"r":33,"v":3.268},{"c":13,"r":33,"v":3.268},{"c":14,"r":33,"v":3.268},{"c":15,"r":33,"v":3.268},{"c":16,"r":33,"v":3.268},{"c":17,"r":33,"v":3.268},{"c":18,"r":33,"v":3.268},{"c":19,"r":33,"v":3.268},{"c":20,"r":33,"v":3.268},{"c":21,"r":33,"v":3.268},{"c":22,"r":33,"v":3.268},{"c":23,"r":33,"v":3.268},{"c":24,"r":33,"v":3.268},{"c":25,"r":33,"v":3.268},{"c":26,"r":33,"v":3.268},{"c":27,"r":33,"v":3.268},{"c":28,"r":33,"v":3.268},{"c":29,"r":33,"v":3.268},{"c":30,"r":33,"v":3.268},{"c":31,"r":33,"v":3.268},
{"c":10,"r":34,"v":3.267},{"c":11,"r":34,"v":3.267},{"c":12,"r":34,"v":3.267},{"c":13,"r":34,"v":3.267},{"c":14,"r":34,"v":3.267},{"c":15,"r":34,"v":3.267},{"c":16,"r":34,"v":3.267},{"c":17,"r":34,"v":3.267},{"c":18,"r":34,"v":3.267},{"c":19,"r":34,"v":3.267},{"c":20,"r":34,"v":3.267},{"c":21,"r":34,"v":3.267},{"c":22,"r":34,"v":3.267},{"c":23,"r":34,"v":3.267},{"c":24,"r":34,"v":3.267},{"c":25,"r":34,"v":3.267},{"c":26,"r":34,"v":3.267},{"c":27,"r":34,"v":3.267},{"c":28,"r":34,"v":3.267},{"c":29,"r":34,"v":3.267},{"c":30,"r":34,"v":3.267},
{"c":11,"r":35,"v":3.267},{"c":12,"r":35,"v":3.267},{"c":13,"r":35,"v":3.267},{"c":14,"r":35,"v":3.267},{"c":15,"r":35,"v":3.267},{"c":16,"r":35,"v":3.267},{"c":17,"r":35,"v":3.267},{"c":18,"r":35,"v":3.267},{"c":19,"r":35,"v":3.267},{"c":20,"r":35,"v":3.267},{"c":21,"r":35,"v":3.267},{"c":22,"r":35,"v":3.267},{"c":23,"r":35,"v":3.267},{"c":24,"r":35,"v":3.267},{"c":25,"r":35,"v":3.267},{"c":26,"r":35,"v":3.267},{"c":27,"r":35,"v":3.267},{"c":28,"r":35,"v":3.267},{"c":29,"r":35,"v":3.267},
{"c":12,"r":36,"v":3.267},{"c":13,"r":36,"v":3.267},{"c":14,"r":36,"v":3.267},{"c":15,"r":36,"v":3.267},{"c":16,"r":36,"v":3.267},{"c":17,"r":36,"v":3.267},{"c":18,"r":36,"v":3.267},{"c":19,"r":36,"v":3.267},{"c":20,"r":36,"v":3.267},{"c":21,"r":36,"v":3.267},{"c":22,"r":36,"v":3.267},{"c":23,"r":36,"v":3.267},{"c":24,"r":36,"v":3.267},{"c":25,"r":36,"v":3.267},{"c":26,"r":36,"v":3.267},{"c":27,"r":36,"v":3.267},{"c":28,"r":36,"v":3.267},
{"c":13,"r":37,"v":3.267},{"c":14,"r":37,"v":3.267},{"c":15,"r":37,"v":3.267},{"c":16,"r":37,"v":3.267},{"c":17,"r":37,"v":3.267},{"c":18,"r":37,"v":3.267},{"c":19,"r":37,"v":3.267},{"c":20,"r":37,"v":3.267},{"c":21,"r":37,"v":3.267},{"c":22,"r":37,"v":3.267},{"c":23,"r":37,"v":3.267},{"c":24,"r":37,"v":3.267},{"c":25,"r":37,"v":3.267},{"c":26,"r":37,"v":3.267},{"c":27,"r":37,"v":3.267},
{"c":14,"r":38,"v":3.266},{"c":15,"r":38,"v":3.266},{"c":16,"r":38,"v":3.266},{"c":17,"r":38,"v":3.266},{"c":18,"r":38,"v":3.266},{"c":19,"r":38,"v":3.266},{"c":20,"r":38,"v":3.266},{"c":21,"r":38,"v":3.266},{"c":22,"r":38,"v":3.266},{"c":23,"r":38,"v":3.266},{"c":24,"r":38,"v":3.266},{"c":25,"r":38,"v":3.266},{"c":26,"r":38,"v":3.266},
{"c":15,"r":39,"v":3.266},{"c":16,"r":39,"v":3.266},{"c":17,"r":39,"v":3.266},{"c":18,"r":39,"v":3.266},{"c":19,"r":39,"v":3.266},{"c":20,"r":39,"v":3.266},{"c":21,"r":39,"v":3.266},{"c":22,"r":39,"v":3.266},{"c":23,"r":39,"v":3.266},{"c":24,"r":39,"v":3.266},{"c":25,"r":39,"v":3.266},
{"c":16,"r":40,"v":3.266},{"c":17,"r":40,"v":3.266},{"c":18,"r":40,"v":3.266},{"c":19,"r":40,"v":3.266},{"c":20,"r":40,"v":3.266},{"c":21,"r":40,"v":3.266},{"c":22,"r":40,"v":3.266},{"c":23,"r":40,"v":3.266},{"c":24,"r":40,"v":3.266}
]},
"mark":{"type":"rect","width":25.8,"height":25.7,"clip":true},
"encoding":{
"x":{"field":"c","type":"quantitative","scale":{"domain":[0.1048,39.646],"nice":false,"zero":false},"axis":null},
"y":{"field":"r","type":"quantitative","scale":{"domain":[0.0409,39.779],"reverse":true,"nice":false,"zero":false},"axis":null},
"color":{"field":"v","type":"quantitative","scale":{"domain":[3.0,3.25,3.5,3.75],"range":["#00ff00","#00ffff","#0000ff","#ff00ff"],"interpolate":"rgb"},"legend":null}
}},
{"data":{"values":[
{"s":"a","o":1,"c":13.759,"r":16.925},{"s":"a","o":2,"c":14.023,"r":16.754},{"s":"a","o":3,"c":14.684,"r":16.952},{"s":"a","o":4,"c":15.475,"r":17.218},{"s":"a","o":5,"c":16.131,"r":17.548},{"s":"a","o":6,"c":16.661,"r":17.945},{"s":"a","o":7,"c":17.317,"r":18.409},{"s":"a","o":8,"c":17.977,"r":18.937},{"s":"a","o":9,"c":18.175,"r":19.334},{"s":"a","o":10,"c":18.242,"r":19.862},
{"s":"b","o":1,"c":19.097,"r":21.784},{"s":"b","o":2,"c":19.69,"r":22.641},{"s":"b","o":3,"c":20.22,"r":23.435},{"s":"b","o":4,"c":20.457,"r":23.967},{"s":"b","o":5,"c":20.48,"r":25.023},{"s":"b","o":6,"c":20.457,"r":26.083},{"s":"b","o":7,"c":20.587,"r":26.876},{"s":"b","o":8,"c":20.48,"r":27.405},{"s":"b","o":9,"c":20.085,"r":28.068},{"s":"b","o":10,"c":19.429,"r":28.334},{"s":"b","o":11,"c":18.503,"r":28.664},{"s":"b","o":12,"c":17.977,"r":28.731},{"s":"b","o":13,"c":17.582,"r":28.465},{"s":"b","o":14,"c":17.12,"r":28.0},{"s":"b","o":15,"c":16.131,"r":27.603},{"s":"b","o":16,"c":14.945,"r":27.075},{"s":"b","o":17,"c":13.893,"r":26.083},{"s":"b","o":18,"c":12.837,"r":25.158},{"s":"b","o":19,"c":11.781,"r":24.364},{"s":"b","o":20,"c":10.86,"r":23.57},{"s":"b","o":21,"c":10.465,"r":22.975},{"s":"b","o":22,"c":10.334,"r":22.113},{"s":"b","o":23,"c":10.397,"r":21.053},{"s":"b","o":24,"c":10.334,"r":19.997},{"s":"b","o":25,"c":10.334,"r":19.068},{"s":"b","o":26,"c":10.532,"r":18.54},{"s":"b","o":27,"c":10.99,"r":18.211},{"s":"b","o":28,"c":11.781,"r":17.877}
]},
"mark":{"type":"line","color":"white","strokeWidth":2,"interpolate":"catmull-rom"},
"encoding":{"x":{"field":"c","type":"quantitative"},"y":{"field":"r","type":"quantitative"},"detail":{"field":"s"},"order":{"field":"o","type":"quantitative"}}},
{"data":{"values":[{"s":"3.25"}]},"mark":{"type":"text","color":"white","fontSize":21,"angle":-27,"align":"center","baseline":"middle"},
"encoding":{"x":{"datum":12.76},"y":{"datum":17.39},"text":{"field":"s"}}},
{"data":{"values":[{"s":"3.25"}]},"mark":{"type":"text","color":"white","fontSize":21,"angle":57,"align":"center","baseline":"middle"},
"encoding":{"x":{"datum":18.44},"y":{"datum":20.92},"text":{"field":"s"}}},
{"data":{"values":[{}]},"mark":{"type":"rect","color":"white"},
"encoding":{"x":{"datum":-1},"x2":{"datum":41},"y":{"datum":0.557},"y2":{"datum":3.058}}},
{"data":{"values":[{"s":"Log10(AS2 RhoA [Ωm]): 250 Hz"}]},"mark":{"type":"text","color":"#444444","fontSize":34,"align":"center","baseline":"alphabetic"},
"encoding":{"x":{"datum":19.836},"y":{"datum":2.264},"text":{"field":"s"}}},
{"data":{"values":[{"s":"AS2"}]},"mark":{"type":"text","color":"#444444","fontSize":69,"align":"left","baseline":"alphabetic"},
"encoding":{"x":{"datum":1.766},"y":{"datum":6.115},"text":{"field":"s"}}},
{"data":{"values":[{"s":"AS2 min\u00a0 = 1,700 Ωm"}]},"mark":{"type":"text","color":"#444444","fontSize":45,"align":"left","baseline":"alphabetic"},
"encoding":{"x":{"datum":16.474},"y":{"datum":34.181},"text":{"field":"s"}}},
{"data":{"values":[{"s":"AS2 max = 2,050 Ωm"}]},"mark":{"type":"text","color":"#444444","fontSize":45,"align":"left","baseline":"alphabetic"},
"encoding":{"x":{"datum":16.474},"y":{"datum":36.364},"text":{"field":"s"}}},
{"data":{"values":[{"s":"➔"}]},"mark":{"type":"text","color":"#444444","fontSize":44,"fontWeight":"bold","font":"DejaVu Sans","align":"left","baseline":"alphabetic"},
"encoding":{"x":{"datum":16.474},"y":{"datum":38.428},"text":{"field":"s"}}},
{"data":{"values":[{"s":"0.08 order of magnitude"}]},"mark":{"type":"text","color":"#444444","fontSize":45.5,"align":"left","baseline":"alphabetic"},
"encoding":{"x":{"datum":18.887},"y":{"datum":38.428},"text":{"field":"s"}}},
{"data":{"values":[{}]},"mark":{"type":"rule","color":"#444444","strokeWidth":2},
"encoding":{"x":{"datum":16.474},"x2":{"datum":37.986},"y":{"datum":38.706}}},
{"data":{"values":[{}]},"mark":{"type":"rule","color":"#555555","strokeWidth":1.5},
"encoding":{"x":{"datum":-0.21},"x2":{"datum":41},"y":{"datum":0.0}}}
]},
{"layer":[
{"data":{"values":[{}]},"mark":{"type":"rect","color":"white"},
"encoding":{"x":{"datum":3.1,"scale":{"domain":[3.18781,4.73102],"nice":false,"zero":false}},"x2":{"datum":3.7958},"y":{"datum":34.74},"y2":{"datum":40.5}}},
{"data":{"values":[{}]},"mark":{"type":"rect","stroke":"black","strokeWidth":2,"fill":{"gradient":"linear","x1":0,"y1":0,"x2":1,"y2":0,"stops":[{"offset":0,"color":"#00ff00"},{"offset":0.33333,"color":"#00ffff"},{"offset":0.66667,"color":"#0000ff"},{"offset":1,"color":"#ff00ff"}]}},
"encoding":{"x":{"datum":3.0},"x2":{"datum":3.75},"y":{"datum":35.73},"y2":{"datum":37.12}}},
{"data":{"values":[{"t":3.25},{"t":3.5},{"t":3.75}]},"mark":{"type":"rule","color":"#222222","strokeWidth":1.5},
"encoding":{"x":{"field":"t","type":"quantitative"},"y":{"datum":37.12},"y2":{"datum":37.6}}},
{"data":{"values":[{"t":3.2},{"t":3.3},{"t":3.4},{"t":3.6},{"t":3.7}]},"mark":{"type":"rule","color":"#222222","strokeWidth":1.5},
"encoding":{"x":{"field":"t","type":"quantitative"},"y":{"datum":37.12},"y2":{"datum":37.4}}},
{"data":{"values":[{"t":3.25,"s":"3.25"},{"t":3.5,"s":"3.50"},{"t":3.75,"s":"3.75"}]},"mark":{"type":"text","color":"#222222","fontSize":27,"angle":90,"align":"left","baseline":"middle"},
"encoding":{"x":{"field":"t","type":"quantitative"},"y":{"datum":37.68},"text":{"field":"s"}}}
]}
],
"resolve":{"scale":{"x":"independent"}}
}
